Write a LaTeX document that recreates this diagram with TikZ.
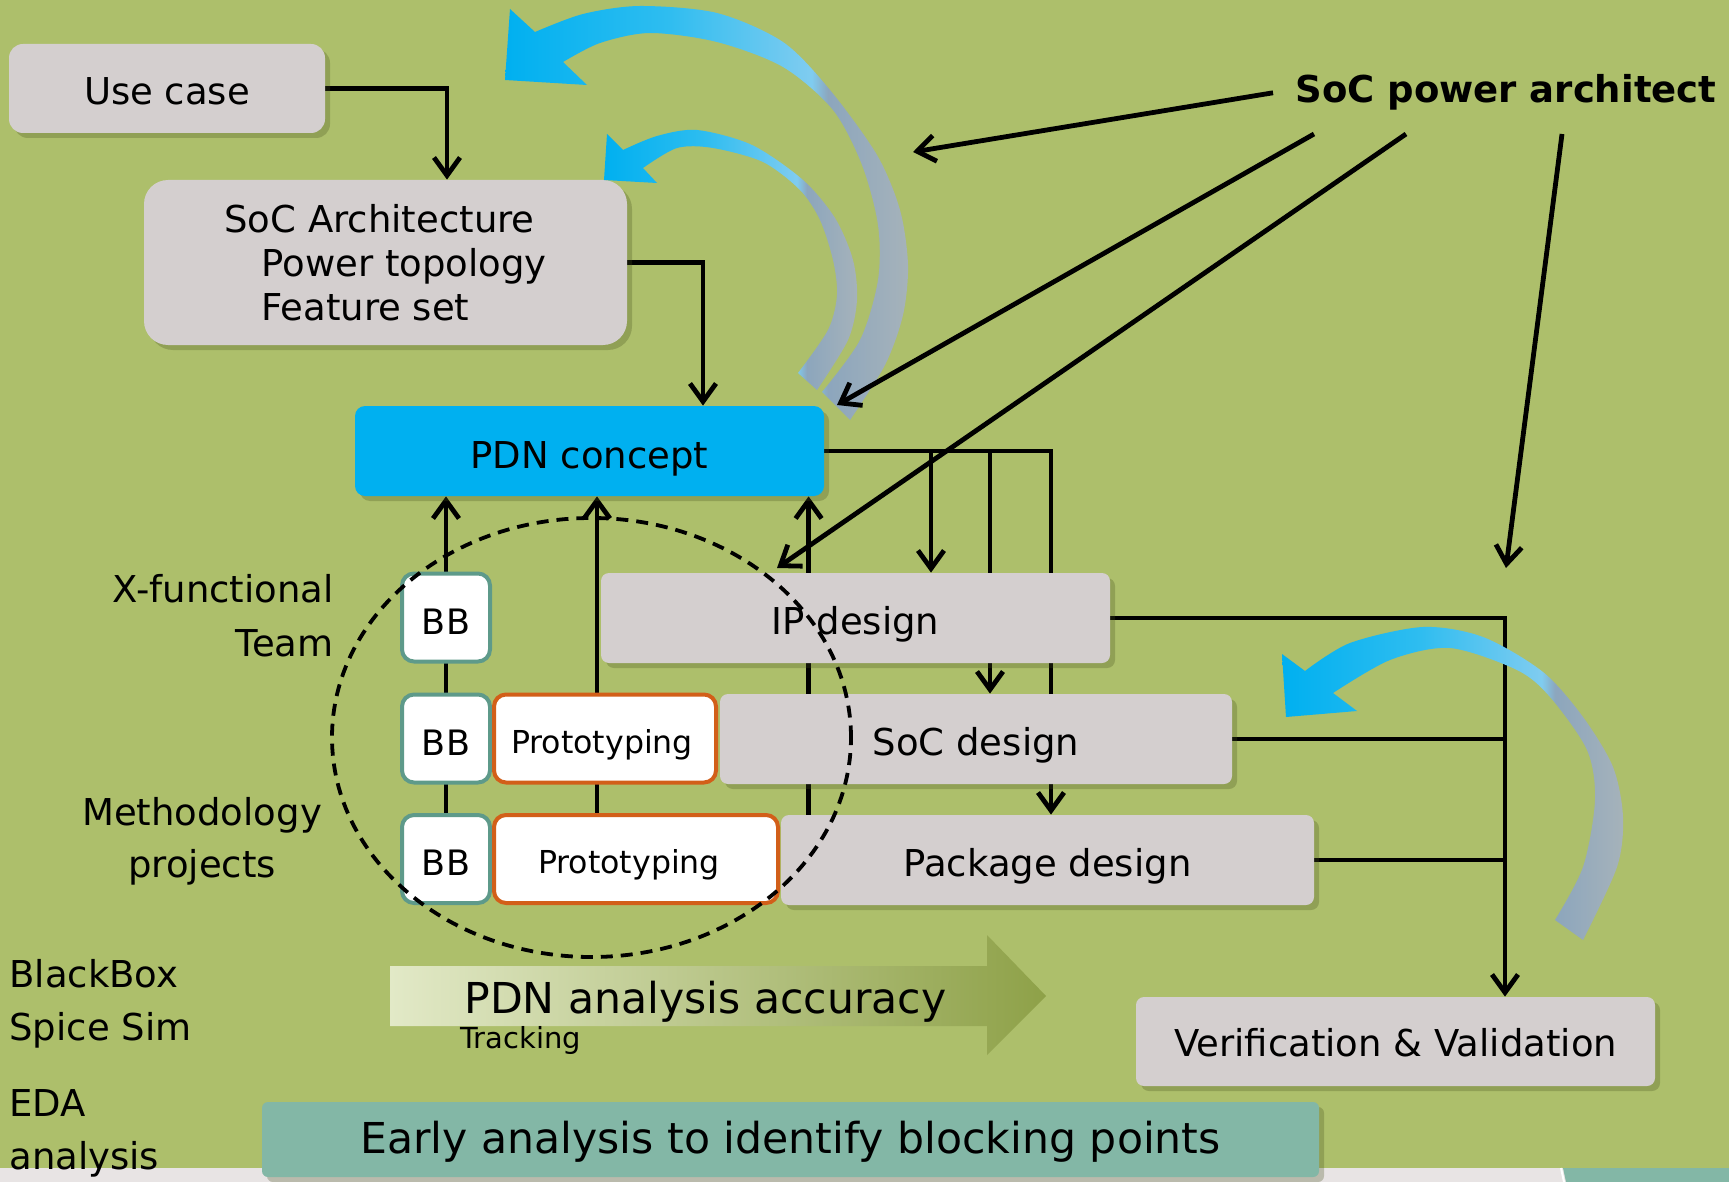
\documentclass[tikz,border=0pt]{standalone}
\usepackage{fontspec}
\setmainfont{DejaVu Sans}
\usetikzlibrary{arrows.meta,shadows}

\definecolor{leaf}{RGB}{173,191,107}
\definecolor{stone}{RGB}{212,207,207}
\definecolor{sky}{RGB}{0,176,240}
\definecolor{sea}{RGB}{131,183,166}
\definecolor{bbline}{RGB}{94,154,138}
\definecolor{rust}{RGB}{210,95,25}
\definecolor{mist}{RGB}{232,228,228}
\definecolor{paleleaf}{RGB}{226,233,199}
\definecolor{midleaf}{RGB}{208,216,165}
\definecolor{darkleaf}{RGB}{142,161,72}
\definecolor{moss}{RGB}{70,80,30}

% cyan head fading to light blue, then the grey-blue tail
\pgfdeclarehorizontalshading{loopshade}{100bp}{rgb(0bp)=(0,0.69,0.94); rgb(25bp)=(0,0.69,0.94); rgb(45bp)=(0.18,0.74,0.94); rgb(63bp)=(0.5,0.8,0.94); rgb(65bp)=(0.55,0.65,0.74); rgb(75bp)=(0.65,0.7,0.73); rgb(100bp)=(0.65,0.7,0.73)}

\pgfdeclarelayer{back}
\pgfdeclarelayer{wires}
\pgfsetlayers{back,wires,main}

% curved block arrow: #1 head (barb -- tip -- barb), #2 inner rim, #3 outer rim
\newcommand{\loopback}[3]{\shade[shading=loopshade] #1 -- plot[smooth] coordinates {#2} -- plot[smooth] coordinates {#3} -- cycle;}

\begin{document}
\begin{tikzpicture}[x=0.5pt, y=-0.5pt,
  font=\fontsize{18.5}{22}\selectfont,
  flat/.style={fill=stone, rounded corners=4pt, inner sep=0pt,
    drop shadow={shadow xshift=2.5pt, shadow yshift=-2.5pt, opacity=0.28, fill=moss}},
  box/.style={flat, text height=16pt, text depth=0pt},
  bb/.style={draw=bbline, line width=2pt, fill=white, rounded corners=6pt,
    minimum width=44pt, minimum height=44pt, inner sep=0pt,
    text height=16.5pt, text depth=0pt, font=\fontsize{17.5}{21}\selectfont},
  proto/.style={draw=rust, line width=2pt, fill=white, rounded corners=6pt,
    minimum height=44pt, inner sep=0pt, text height=14.5pt, text depth=0pt,
    font=\fontsize{15.8}{19}\selectfont},
  wire/.style={line width=2.4pt},
  conn/.style={wire, -{Straight Barb[length=9pt, width=13pt]}},
  side/.style={inner sep=0pt, font=\fontsize{18.5}{26.5}\selectfont}
]
\useasboundingbox (0,0) rectangle (1729,1182);
\begin{pgfonlayer}{back}
\fill[leaf] (0,0) rectangle (1729,1182);
\fill[mist] (0,1168) rectangle (1729,1182);
\fill[sea] (1563,1168) -- (1729,1168) -- (1729,1182) -- (1566,1182) -- cycle;
\draw[white, line width=1pt] (1561,1168) -- (1564,1182);
\end{pgfonlayer}

% flow boxes
\node[box, rounded corners=7pt, minimum width=158pt, minimum height=44.5pt, text height=16.5pt] (usecase) at (167,88.5) {Use case};
\node[flat, rounded corners=12pt, minimum width=241.5pt, minimum height=82.5pt, align=left] (socarch) at (385.5,262.5) {SoC Architecture\\\hspace*{1em}Power topology\\\hspace*{1em}Feature set};
\node[box, fill=sky, rounded corners=5pt, minimum width=234.5pt, minimum height=45pt, text height=17pt] (pdn) at (589.5,451) {PDN concept};
\node[box, minimum width=254.5pt, minimum height=45pt] (ipd) at (855.5,618) {IP design};
\node[box, minimum width=256pt, minimum height=45pt] (socd) at (976,739) {SoC design};
\node[box, minimum width=266.5pt, minimum height=45pt] (pkg) at (1047.5,860) {Package design};
\node[box, minimum width=259.5pt, minimum height=44.5pt, text height=15pt] (vv) at (1395.5,1041.5) {Verification \& Validation};
\node[box, fill=sea, rounded corners=3pt, minimum width=528.5pt, minimum height=37.5pt, text height=13.5pt, font=\fontsize{21.3}{25}\selectfont] (early) at (790.5,1139.5) {Early analysis to identify blocking points};

% building blocks and prototypes
\node[bb] (bb1) at (446,617.5) {BB};
\node[bb] (bb2) at (446,738.5) {BB};
\node[bb] (bb3) at (446,859) {BB};
\node[proto, minimum width=111pt] (proto1) at (605,738.5) {\hspace*{-3pt}Prototyping};
\node[proto, minimum width=142pt] (proto2) at (636,859) {\hspace*{-7pt}Prototyping};

% side labels
\node[side, align=right, anchor=east, font=\fontsize{18.5}{27}\selectfont] (xteam) at (334,616) {X-functional\\Team};
\node[side, align=center, font=\fontsize{18.5}{26}\selectfont] (method) at (202,841.5) {Methodology\\projects};
\node[side, align=left, anchor=west] (spice) at (9,1004) {BlackBox\\Spice Sim};
\node[side, align=left, anchor=west] (eda) at (9,1133) {EDA\\analysis};
\node[side, font=\fontsize{18.5}{22}\selectfont\bfseries, anchor=base west] (archt) at (1295,103) {SoC power architect};

% accuracy arrow
\shade[left color=paleleaf, middle color=midleaf, right color=darkleaf] (390,966) -- (987,966) -- (987,935) -- (1046,996) -- (987,1055) -- (987,1026) -- (390,1026) -- cycle;
\node[side, font=\fontsize{21.3}{25}\selectfont, anchor=base west] (acc) at (464,1013) {PDN analysis accuracy};
\node[side, font=\fontsize{14.5}{17}\selectfont, anchor=base west] (trk) at (460,1048) {Tracking};

\begin{pgfonlayer}{wires}
\draw[conn] (usecase.east) -| ([xshift=30.75pt]socarch.north);
\draw[conn] (socarch.east) -| ([xshift=56.75pt]pdn.north);
% PDN concept feeds the three design steps
\coordinate (ipin) at ([xshift=37.75pt]ipd.north);
\coordinate (socin) at ([xshift=7pt]socd.north);
\coordinate (pkgin) at ([xshift=1.75pt]pkg.north);
\draw[conn] (pdn.east) -| (pkgin);
\draw[conn] (ipin |- pdn.east) -- (ipin);
\draw[conn] (socin |- pdn.east) -- (socin);
% back up to the concept
\coordinate (protoup) at ([xshift=-4pt]proto1.center);
\coordinate (pkgup) at ([xshift=14pt]pkg.north west);
\draw[conn] (bb3.center) -- (bb3.center |- pdn.south);
\draw[conn] (protoup |- proto2.north) -- (protoup |- pdn.south);
\draw[conn] (pkgup) -- (pkgup |- pdn.south);
% design steps gathered into verification
\coordinate (rail) at ([xshift=54.75pt]vv.north);
\draw[conn] (ipd.east) -| (rail);
\draw[wire] (socd.east) -- (socd.east -| rail);
\draw[wire] (pkg.east) -- (pkg.east -| rail);
\end{pgfonlayer}

% iteration loops
\loopback{(510,9) -- (505,80) -- (587,85)}
  {(563,62) (600,43) (650,33) (717,42) (783,67) (833,110) (862,165) (878,225) (878,280) (860,340) (822,392)}
  {(850,420) (885,365) (903,315) (908,265) (900,210) (877,155) (830,90) (783,42) (717,13) (640,6) (583,14) (535,32)}
\loopback{(607,134) -- (604,180) -- (657,183)}
  {(643,168) (677,148) (713,148) (763,162) (800,190) (820,220) (833,260) (837,295) (828,330) (798,373)}
  {(817,390) (848,340) (857,300) (853,260) (835,218) (803,180) (752,145) (697,130) (657,136) (623,150)}
\loopback{(1282,654) -- (1286,717) -- (1357,711)}
  {(1333,693) (1390,660) (1450,648) (1517,670) (1550,697) (1587,750) (1595,800) (1583,867) (1555,920)}
  {(1583,940) (1617,867) (1623,817) (1613,767) (1583,717) (1543,672) (1483,637) (1423,627) (1350,643) (1305,671)}

\draw[line width=1.9pt, dash pattern=on 6pt off 4pt] (591.5,737.5) ellipse [x radius=129.75pt, y radius=109.75pt];

% the architect steers every step
\coordinate (t1) at (913,152);
\coordinate (s2) at (1314,134); \coordinate (t2) at (837,405);
\coordinate (s3) at (1406,134); \coordinate (t3) at (777,568);
\coordinate (s4) at (1562,134); \coordinate (t4) at (1506,568);
\draw[conn] ([xshift=-11pt]archt.west) -- (t1);
\foreach \src/\dst in {s2/t2, s3/t3, s4/t4}
  \draw[conn] (\src) -- (\dst);
\end{tikzpicture}
\end{document}
